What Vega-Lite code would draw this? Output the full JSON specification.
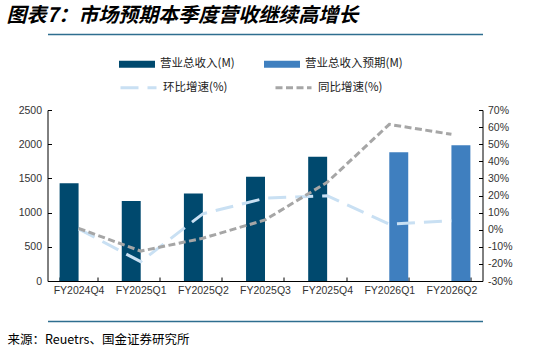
{
  "$schema": "https://vega.github.io/schema/vega-lite/v6.json",
  "width": 435,
  "height": 171,
  "autosize": {"type": "none"},
  "padding": {"left": 47.5, "top": 110, "right": 58.5, "bottom": 71},
  "background": "white",
  "title": {
    "text": "图表7：市场预期本季度营收继续高增长",
    "anchor": "start",
    "frame": "group",
    "dx": -41,
    "offset": 8,
    "font": "Noto Sans CJK SC",
    "fontSize": 20,
    "fontWeight": "bold",
    "fontStyle": "italic",
    "color": "#000000"
  },
  "config": {
    "view": {"stroke": null},
    "axis": {"grid": false}
  },
  "data": {
    "values": [
      {"季度": "FY2024Q4", "指标": "营业总收入(M)", "数值": 1428},
      {"季度": "FY2025Q1", "指标": "营业总收入(M)", "数值": 1170},
      {"季度": "FY2025Q2", "指标": "营业总收入(M)", "数值": 1280},
      {"季度": "FY2025Q3", "指标": "营业总收入(M)", "数值": 1525},
      {"季度": "FY2025Q4", "指标": "营业总收入(M)", "数值": 1817},
      {"季度": "FY2026Q1", "指标": "营业总收入预期(M)", "数值": 1882},
      {"季度": "FY2026Q2", "指标": "营业总收入预期(M)", "数值": 1985},
      {"季度": "FY2024Q4", "指标": "环比增速(%)", "数值": 0.5},
      {"季度": "FY2025Q1", "指标": "环比增速(%)", "数值": -18.7},
      {"季度": "FY2025Q2", "指标": "环比增速(%)", "数值": 9.3},
      {"季度": "FY2025Q3", "指标": "环比增速(%)", "数值": 18.4},
      {"季度": "FY2025Q4", "指标": "环比增速(%)", "数值": 19.9},
      {"季度": "FY2026Q1", "指标": "环比增速(%)", "数值": 3.3},
      {"季度": "FY2026Q2", "指标": "环比增速(%)", "数值": 5.3},
      {"季度": "FY2024Q4", "指标": "同比增速(%)", "数值": 0.8},
      {"季度": "FY2025Q1", "指标": "同比增速(%)", "数值": -12.5},
      {"季度": "FY2025Q2", "指标": "同比增速(%)", "数值": -5.0},
      {"季度": "FY2025Q3", "指标": "同比增速(%)", "数值": 5.7},
      {"季度": "FY2025Q4", "指标": "同比增速(%)", "数值": 27.7},
      {"季度": "FY2026Q1", "指标": "同比增速(%)", "数值": 61.6},
      {"季度": "FY2026Q2", "指标": "同比增速(%)", "数值": 55.8}
    ]
  },
  "layer": [
    {
      "transform": [{"filter": {"field": "指标", "oneOf": ["营业总收入(M)", "营业总收入预期(M)"]}}],
      "mark": {"type": "bar"},
      "encoding": {
        "x": {
          "field": "季度",
          "type": "nominal",
          "scale": {
            "domain": ["FY2024Q4", "FY2025Q1", "FY2025Q2", "FY2025Q3", "FY2025Q4", "FY2026Q1", "FY2026Q2"],
            "paddingInner": 0.39,
            "paddingOuter": 0.195
          },
          "axis": {
            "orient": "bottom",
            "title": null,
            "labelAngle": 0,
            "labelFont": "Liberation Sans",
            "labelFontSize": 10.5,
            "labelColor": "#333333",
            "labelPadding": 8,
            "domainColor": "#000000",
            "tickColor": "#000000",
            "tickBand": "extent",
            "tickSize": -4
          }
        },
        "xOffset": {
          "field": "指标",
          "type": "nominal",
          "scale": {"domain": ["营业总收入(M)", "营业总收入预期(M)"], "paddingInner": 0, "paddingOuter": 0}
        },
        "y": {
          "field": "数值",
          "type": "quantitative",
          "scale": {"domain": [0, 2500]},
          "axis": {
            "orient": "left",
            "title": null,
            "format": "d",
            "values": [0, 500, 1000, 1500, 2000, 2500],
            "labelFont": "Liberation Sans",
            "labelFontSize": 10.5,
            "labelColor": "#333333",
            "labelPadding": 10,
            "domainColor": "#000000",
            "tickColor": "#000000",
            "tickSize": -4
          }
        },
        "color": {
          "field": "指标",
          "type": "nominal",
          "scale": {"domain": ["营业总收入(M)", "营业总收入预期(M)"], "range": ["#00496E", "#3F7FBF"]},
          "legend": {
            "title": null,
            "orient": "none",
            "legendX": 71.5,
            "legendY": -64,
            "direction": "horizontal",
            "columns": 2,
            "columnPadding": 29,
            "padding": 0,
            "symbolType": "M-1,-0.2H1V0.2H-1Z",
            "symbolSize": 1296,
            "symbolStrokeWidth": 0,
            "symbolOpacity": 1,
            "labelFont": "Noto Sans CJK SC",
            "labelFontSize": 11.5,
            "labelColor": "#222222",
            "labelOffset": 5,
            "labelLimit": 200
          }
        }
      }
    },
    {
      "transform": [{"filter": {"field": "指标", "equal": "环比增速(%)"}}],
      "mark": {"type": "line", "strokeWidth": 3},
      "encoding": {
        "x": {
          "field": "季度",
          "type": "nominal",
          "axis": {
            "orient": "top",
            "offset": 76,
            "title": null,
            "labels": false,
            "ticks": false,
            "domainColor": "#2E6E8F",
            "domainWidth": 1.5
          }
        },
        "y": {
          "field": "数值",
          "type": "quantitative",
          "scale": {"domain": [-30, 70]},
          "axis": {
            "orient": "right",
            "title": null,
            "values": [-30, -20, -10, 0, 10, 20, 30, 40, 50, 60, 70],
            "labelExpr": "datum.value + '%'",
            "labelFont": "Liberation Sans",
            "labelFontSize": 10.5,
            "labelColor": "#333333",
            "labelPadding": 9,
            "domainColor": "#000000",
            "tickColor": "#000000",
            "tickSize": -4
          }
        },
        "stroke": {
          "field": "指标",
          "type": "nominal",
          "scale": {"domain": ["环比增速(%)", "同比增速(%)"], "range": ["#C9E0F3", "#A6A6A6"]},
          "legend": {
            "title": null,
            "orient": "none",
            "legendX": 71.5,
            "legendY": -42,
            "direction": "horizontal",
            "columns": 2,
            "columnPadding": 41,
            "padding": 0,
            "symbolType": "stroke",
            "symbolSize": 1296,
            "symbolStrokeWidth": 3,
            "labelFont": "Noto Sans CJK SC",
            "labelFontSize": 11.5,
            "labelColor": "#222222",
            "labelOffset": 5,
            "labelLimit": 200
          }
        },
        "strokeDash": {
          "field": "指标",
          "type": "nominal",
          "scale": {"domain": ["环比增速(%)", "同比增速(%)"], "range": [[18, 9], [7, 3.5]]},
          "legend": {
            "title": null,
            "orient": "none",
            "legendX": 71.5,
            "legendY": -42,
            "direction": "horizontal",
            "columns": 2,
            "columnPadding": 41,
            "padding": 0,
            "symbolType": "stroke",
            "symbolSize": 1296,
            "symbolStrokeWidth": 3,
            "labelFont": "Noto Sans CJK SC",
            "labelFontSize": 11.5,
            "labelColor": "#222222",
            "labelOffset": 5,
            "labelLimit": 200
          }
        }
      }
    },
    {
      "transform": [{"filter": {"field": "指标", "equal": "同比增速(%)"}}],
      "mark": {"type": "line", "strokeWidth": 3},
      "encoding": {
        "x": {
          "field": "季度",
          "type": "nominal",
          "axis": {
            "orient": "bottom",
            "offset": 40,
            "labels": false,
            "ticks": false,
            "domainColor": "#2E6E8F",
            "domainWidth": 1.5,
            "title": "来源：Reuetrs、国金证券研究所",
            "titleX": -40.5,
            "titleY": 18,
            "titleAlign": "left",
            "titleBaseline": "middle",
            "titleFont": "Noto Sans CJK SC",
            "titleFontSize": 12.5,
            "titleFontWeight": "normal",
            "titleColor": "#000000"
          }
        },
        "y": {
          "field": "数值",
          "type": "quantitative",
          "scale": {"domain": [-30, 70]},
          "axis": null
        },
        "stroke": {
          "field": "指标",
          "type": "nominal",
          "scale": {"domain": ["环比增速(%)", "同比增速(%)"], "range": ["#C9E0F3", "#A6A6A6"]}
        },
        "strokeDash": {
          "field": "指标",
          "type": "nominal",
          "scale": {"domain": ["环比增速(%)", "同比增速(%)"], "range": [[18, 9], [7, 3.5]]}
        }
      }
    }
  ],
  "resolve": {
    "scale": {"y": "independent"},
    "axis": {"x": "independent", "y": "independent"}
  }
}
